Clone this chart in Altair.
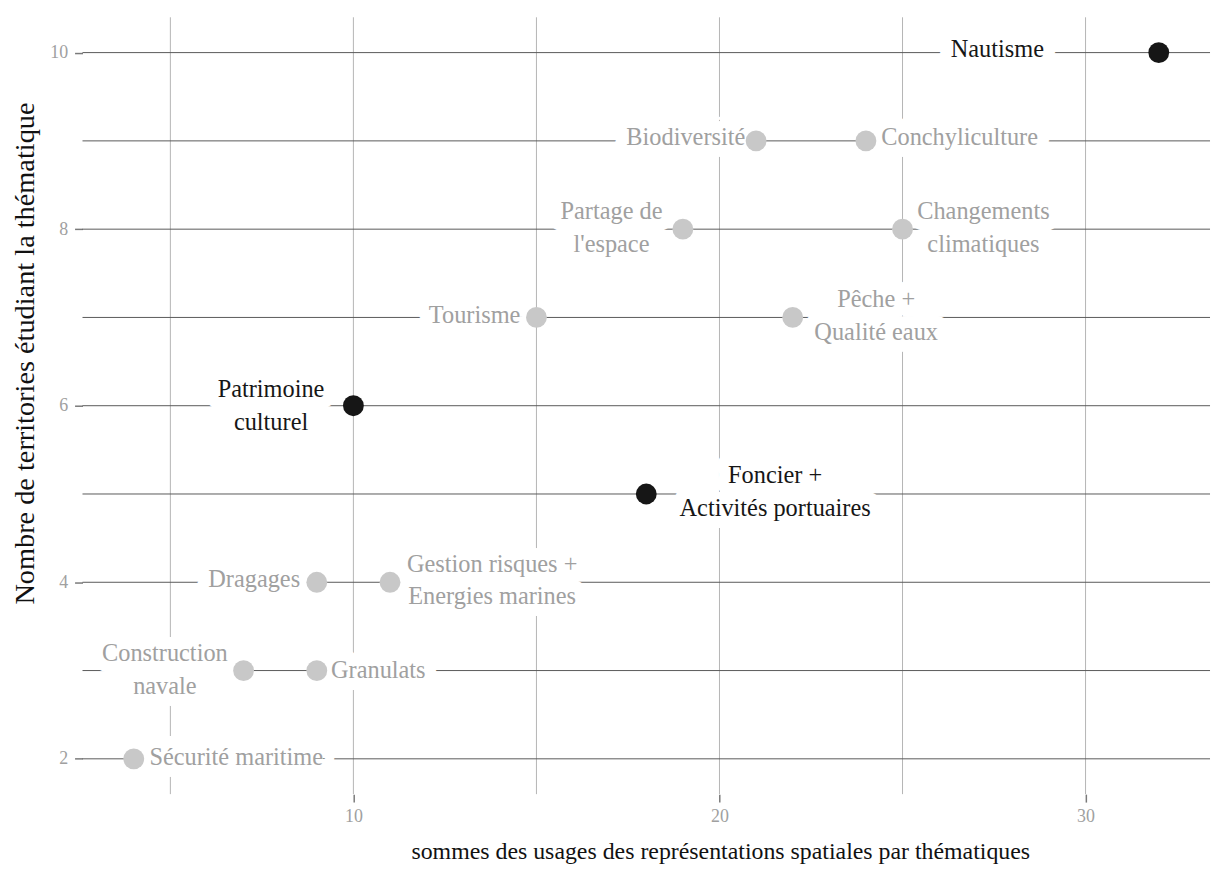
import altair as alt
import pandas as pd

# ---- data ----
themes = ["Nautisme", "Biodiversité", "Conchyliculture", "Partage de\nl'espace",
          "Changements\nclimatiques", "Tourisme", "Pêche +\nQualité eaux",
          "Patrimoine\nculturel", "Foncier +\nActivités portuaires", "Dragages",
          "Gestion risques +\nEnergies marines", "Construction\nnavale", "Granulats",
          "Sécurité maritime"]
usages = [32, 21, 24, 19, 25, 15, 22, 10, 18, 9, 11, 7, 9, 4]
territoires = [10, 9, 9, 8, 8, 7, 7, 6, 5, 4, 4, 3, 3, 2]
highlight = [True, False, False, False, False, False, False, True, True,
             False, False, False, False, False]
# label anchor positions (data units; first text line), as placed by the label-repel layout
label_x = [27.59, 19.08, 26.56, 17.05, 27.21, 13.31, 24.28, 7.75, 21.52, 7.29, 13.79, 4.85, 10.68, 6.80]
label_y = [10.03, 9.03, 9.03, 8.19, 8.19, 7.02, 7.20, 6.18, 5.20, 4.02, 4.20, 3.19, 3.0, 2.01]

x_grid = [5, 10, 15, 20, 25, 30]
y_grid = [2, 3, 4, 5, 6, 7, 8, 9, 10]
x_ticks = [10, 20, 30]
y_ticks = [2, 4, 6, 8, 10]

df = pd.DataFrame({
    "theme": themes,
    "usages": usages,
    "territoires": territoires,
    "hl": ["oui" if h else "non" for h in highlight],
    "lx": label_x,
    "ly": label_y,
})
df["lines"] = df["theme"].str.split("\n")

FONT = "Liberation Serif"
FS = 24.5
LH = 33
xs = alt.Scale(domain=[2.6, 33.4], nice=False, zero=False)
ys = alt.Scale(domain=[1.6, 10.4], nice=False, zero=False)

lab = dict(labelFont=FONT, labelFontSize=18, labelColor="#a0a0a0")
xa = alt.Axis(values=x_ticks, format="d",
              title="sommes des usages des représentations spatiales par thématiques",
              labelPadding=6, titleFontSize=24, titleX=642, titleY=58,
              titleAlign="center", titleBaseline="middle", **lab)
ya = alt.Axis(values=y_ticks, format="d",
              title="Nombre de territories étudiant la thématique",
              labelPadding=7, titleFontSize=28.5, titleX=-58, titleY=338, titleAngle=270,
              titleAlign="center", titleBaseline="middle", **lab)

base = alt.Chart(df)

vgrid = alt.Chart(pd.DataFrame({"v": x_grid})).mark_rule(color="#b4b4b4", strokeWidth=1).encode(
    x=alt.X("v:Q", scale=xs, axis=xa)
)
hgrid = alt.Chart(pd.DataFrame({"v": y_grid})).mark_rule(color="#5a5a5a", strokeWidth=1).encode(
    y=alt.Y("v:Q", scale=ys, axis=ya)
)

points = base.mark_circle(size=440, opacity=1).encode(
    x=alt.X("usages:Q", scale=xs, axis=xa),
    y=alt.Y("territoires:Q", scale=ys, axis=ya),
    color=alt.Color("hl:N", scale=alt.Scale(domain=["oui", "non"], range=["#161616", "#c8c8c8"]),
                    legend=None),
)

mask = base.mark_text(font=FONT, fontSize=FS, lineHeight=LH, baseline="middle", align="center",
                      stroke="white", strokeWidth=24, strokeJoin="round", fill="white").encode(
    x=alt.X("lx:Q", scale=xs, axis=xa), y=alt.Y("ly:Q", scale=ys, axis=ya), text="lines"
)
labels = base.mark_text(font=FONT, fontSize=FS, lineHeight=LH, baseline="middle", align="center").encode(
    x=alt.X("lx:Q", scale=xs, axis=xa), y=alt.Y("ly:Q", scale=ys, axis=ya), text="lines",
    color=alt.Color("hl:N", scale=alt.Scale(domain=["oui", "non"], range=["#161616", "#a0a0a0"]),
                    legend=None),
)

chart = alt.layer(vgrid, hgrid, mask, points, labels).resolve_scale(color="independent").properties(
    width=1135, height=782,
    background="white",
    autosize=alt.AutoSizeParams(type="none"),
    padding={"left": 75, "top": 6.5, "right": 4, "bottom": 72},
).configure_view(stroke=None).configure_axis(
    grid=False, domain=False, tickSize=8, tickWidth=1.5, tickColor="#7a7a7a",
    titleFont=FONT, titleFontWeight="normal", titleColor="#111111",
    **lab
)

chart.save("out.html", embed_options={"renderer": "svg", "actions": False})
